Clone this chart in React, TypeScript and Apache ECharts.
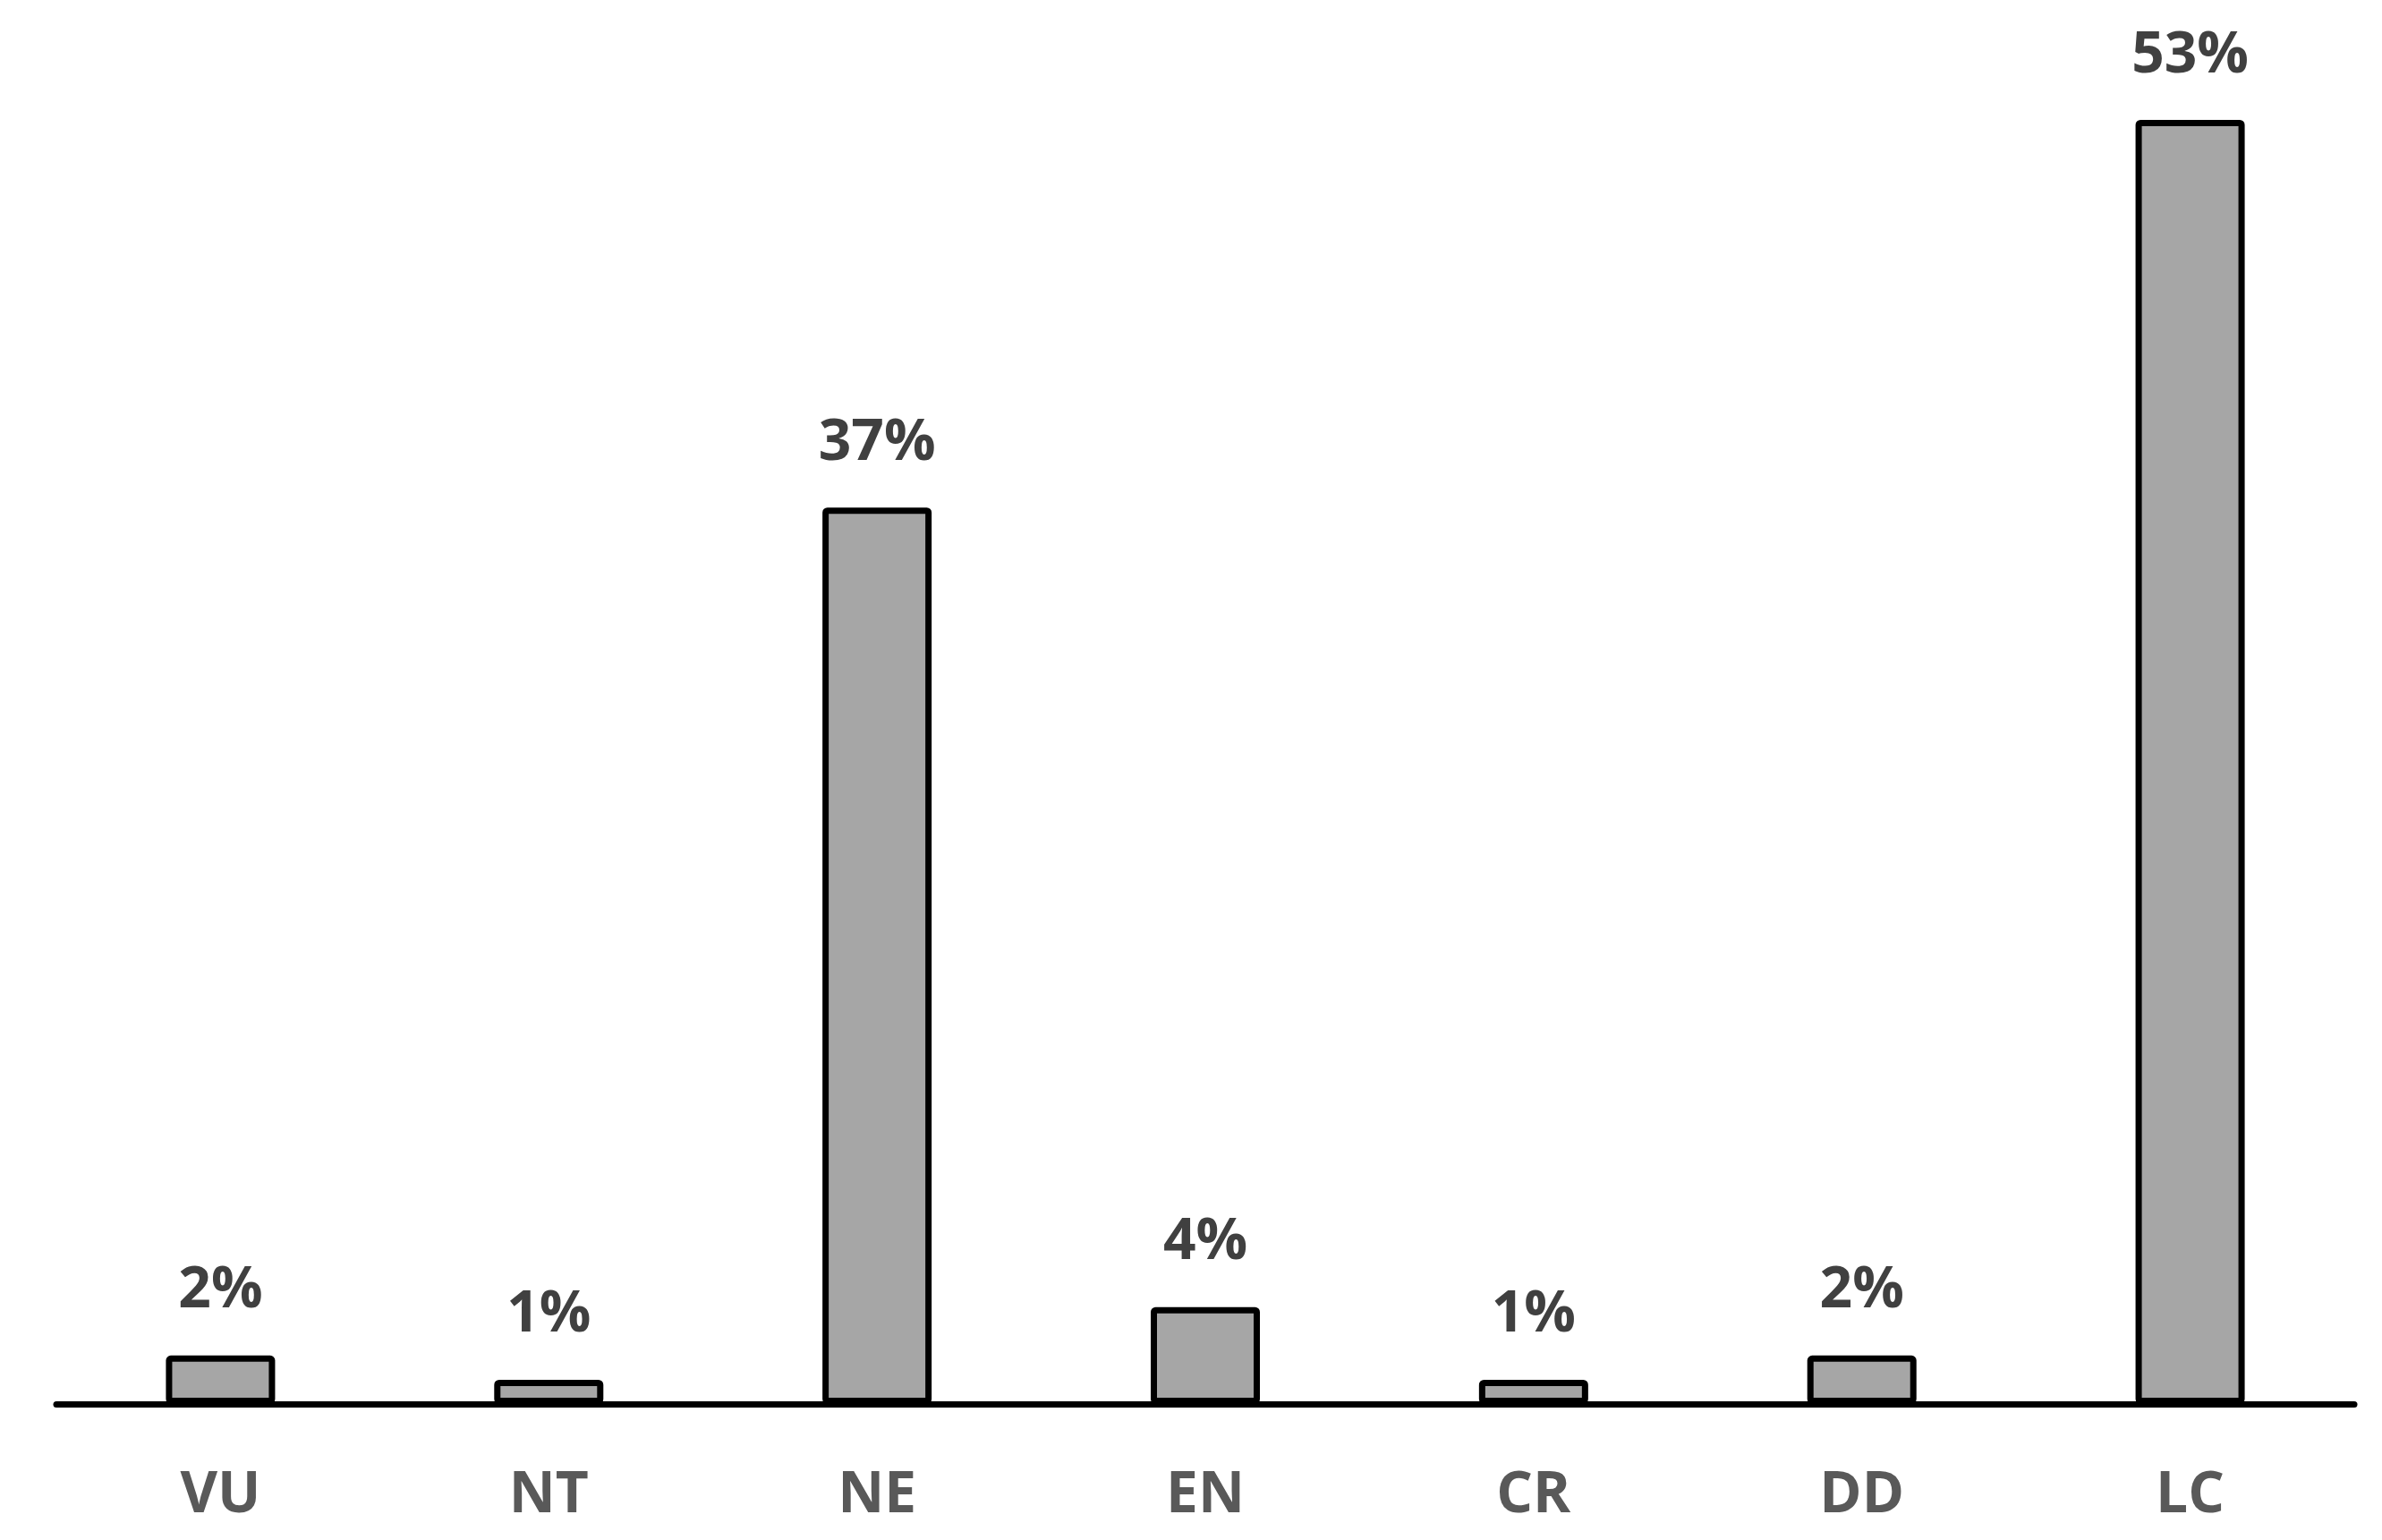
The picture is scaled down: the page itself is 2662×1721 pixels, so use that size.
import React, { useEffect, useRef } from "react";
import * as echarts from "echarts";

const categories = ["VU", "NT", "NE", "EN", "CR", "DD", "LC"];
const values = [2, 1, 37, 4, 1, 2, 53];

export default function App() {
  const ref = useRef<HTMLDivElement>(null);
  useEffect(() => {
    if (!ref.current) return;
    const chart = echarts.init(ref.current, null, { renderer: "svg" });
    chart.setOption({
      animation: false,
      backgroundColor: "#ffffff",
      grid: { left: 63, right: 31, top: 134, bottom: 152, containLabel: false },
      xAxis: {
        type: "category",
        data: categories,
        axisLine: { show: true, lineStyle: { color: "#000000", width: 7 } },
        axisTick: { show: false },
        axisLabel: {
          color: "#595959",
          fontFamily: "'Open Sans', sans-serif",
          fontWeight: "bold",
          fontSize: 64,
          lineHeight: 64,
          margin: 64,
        },
      },
      yAxis: {
        type: "value",
        min: 0,
        max: 53,
        show: false,
        splitLine: { show: false },
      },
      series: [
        {
          type: "bar",
          data: values,
          barWidth: 122,
          itemStyle: {
            color: "#A6A6A6",
            borderColor: "#000000",
            borderWidth: 7,
            borderRadius: 2,
          },
          label: {
            show: true,
            position: "top",
            distance: 46,
            formatter: "{c}%",
            color: "#404040",
            fontFamily: "'Open Sans', sans-serif",
            fontWeight: "bold",
            fontSize: 64,
            lineHeight: 64,
          },
        },
      ],
    });
    return () => chart.dispose();
  }, []);
  return (
    <div
      ref={ref}
      style={{ position: "fixed", left: 0, top: 0, width: 2662, height: 1721 }}
    />
  );
}
